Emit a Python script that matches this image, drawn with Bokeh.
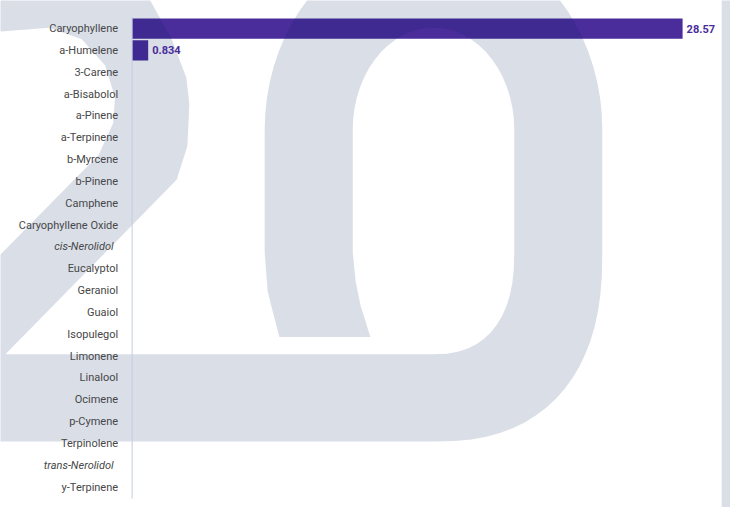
import numpy as np
from bokeh.plotting import figure
from bokeh.models import Range1d, ColumnDataSource
from bokeh.core.properties import value, field
from bokeh.embed import file_html
from bokeh.resources import INLINE

# ---------------- data ----------------
terpenes = ["Caryophyllene", "a-Humelene", "3-Carene", "a-Bisabolol", "a-Pinene",
            "a-Terpinene", "b-Myrcene", "b-Pinene", "Camphene", "Caryophyllene Oxide",
            "cis-Nerolidol", "Eucalyptol", "Geraniol", "Guaiol", "Isopulegol",
            "Limonene", "Linalool", "Ocimene", "p-Cymene", "Terpinolene",
            "trans-Nerolidol", "y-Terpinene"]
amounts = [28.57, 0.834, 0, 0, 0, 0, 0, 0, 0, 0, 0,
           0, 0, 0, 0, 0, 0, 0, 0, 0, 0, 0]
italic_names = ["cis-Nerolidol", "trans-Nerolidol"]

# ---------------- geometry (reference 746x523 mapped onto a 730x507 canvas) ----------------
W, H = 730, 507
RW, RH = 746, 523
PX0, PPU_X = 134.5, 19.69   # reference px of value 0, px per unit
PY0, PPU_Y = 29.0, 22.52    # reference px of first row centre, px per row
x_start, x_end = -PX0 / PPU_X, (RW - PX0) / PPU_X
y_top, y_bottom = -PY0 / PPU_Y, (RH - PY0) / PPU_Y

p = figure(width=W, height=H, x_range=Range1d(x_start, x_end),
           y_range=Range1d(y_bottom, y_top), output_backend="svg",
           toolbar_location=None, x_axis_location=None, y_axis_location=None,
           min_border=0)
p.grid.visible = False
p.outline_line_color = None
p.background_fill_color = "#ffffff"
p.border_fill_color = "#ffffff"

BAR = "#4a2c9b"
idx = list(range(len(terpenes)))

# bars
p.hbar(y=idx, left=0, right=amounts, height=0.93, fill_color=BAR, line_color=None)

# ---------------- decorative "20" watermark (reference pixel outline) ----------------
def wx(px):
    return (px - PX0) / PPU_X

def wy(py):
    return (py - PY0) / PPU_Y

def sarc(cx, cy, rx, ry, a0, a1, n=2.0, k=24):
    pts = []
    for t in np.linspace(a0, a1, k):
        c, s = np.cos(t), np.sin(t)
        x = cx + rx * np.sign(c) * abs(c) ** (2.0 / n)
        y = cy + ry * np.sign(s) * abs(s) ** (2.0 / n)
        pts.append((x, y))
    return pts

outer = [(-20, -40), (120, -40), (140, -15), (153, 0), (175, 40), (190, 80), (193, 107),
         (191, 150), (180, 185), (5, 365), (442, 365)]
outer += sarc(442, 260, 83, 105, np.pi / 2, 0, n=2.4, k=14)
outer += sarc(442.5, 133, 82.5, 105, 0, -np.pi, n=2.0, k=30)
outer += [(360, 260), (363, 290), (368, 315), (378, 347), (285, 347), (278, 320), (273, 300), (270, 260)]
outer += sarc(442.5, 133, 172.5, 201, -np.pi, -np.pi / 2 - 0.35, n=2.0, k=16)
outer += [(330, -40), (555, -40)]
outer += sarc(442.5, 133, 172.5, 201, -np.pi / 2 + 0.35, 0, n=2.0, k=16)
outer += sarc(443, 260, 172, 195, 0, np.pi / 2, n=2.4, k=20)
outer += [(-20, 455)]

bowl = [(-10, 32), (0, 32), (50, 28), (83, 40), (107, 67), (117, 100), (115, 127),
        (100, 160), (80, 180), (0, 262), (-10, 272)]

p.multi_polygons(xs=[[[[wx(a) for a, b in outer], [wx(a) for a, b in bowl]]]],
                 ys=[[[[wy(b) for a, b in outer], [wy(b) for a, b in bowl]]]],
                 fill_color="#02235f", fill_alpha=0.15, line_color=None)

# right edge strip
p.quad(left=wx(737), right=wx(780), top=wy(-20), bottom=wy(540),
       fill_color="#d9dee7", line_color=None)

# axis line
p.segment(x0=0, y0=-0.53, x1=0, y1=len(terpenes) - 0.47, line_color="#c3cce3", line_width=1)

# category labels
lab = ColumnDataSource(dict(
    y=idx, name=terpenes,
    style=["italic" if n in italic_names else "normal" for n in terpenes],
    xoff=[-18.5 if n in italic_names else -14 for n in terpenes]))
p.text(x=0, y="y", text="name", source=lab, x_offset=field("xoff"),
       text_font=value("Roboto"), text_font_size="11px", text_font_style=field("style"),
       text_color="#474747", text_align="right", text_baseline="middle")

# value labels
vi = [i for i, v in enumerate(amounts) if v > 0]
val = ColumnDataSource(dict(y=vi, x=[amounts[i] for i in vi],
                            t=[("%g" % amounts[i]) for i in vi]))
p.text(x="x", y="y", text="t", source=val, x_offset=4,
       text_font=value("Roboto"), text_font_size="11px", text_font_style="bold",
       text_color="#4a2c9b", text_align="left", text_baseline="middle")

open("out.html", "w").write(file_html(p, INLINE))
